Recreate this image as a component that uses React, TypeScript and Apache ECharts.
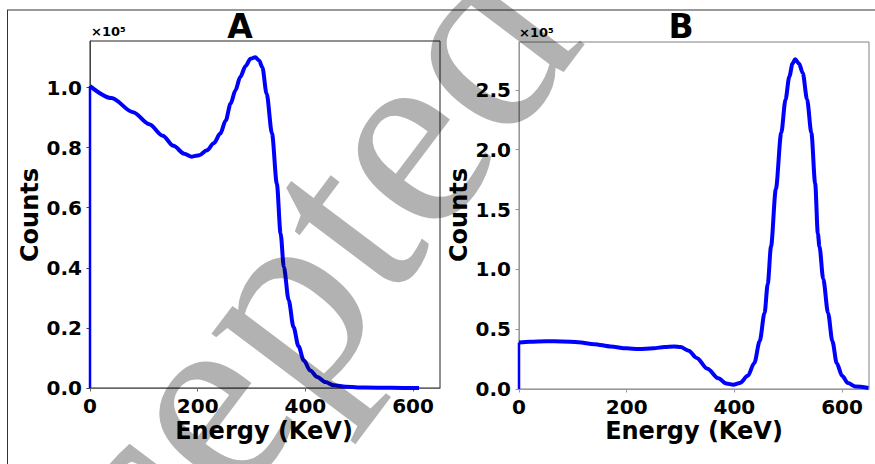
import React, { useEffect, useRef } from "react";
import * as echarts from "echarts";

// Panel A (x in keV, y in units of 1e5 counts)
const energyA = [0, 40, 80, 110, 135, 155, 175, 189, 203, 217, 230, 242, 252, 261, 270, 279, 289, 298, 307, 314, 320, 328, 338, 347, 354, 360, 369, 378, 387, 397, 409, 422, 437, 453, 475, 510, 560, 611];
const countsA = [1.005, 0.965, 0.918, 0.878, 0.84, 0.806, 0.78, 0.77, 0.775, 0.791, 0.815, 0.847, 0.89, 0.946, 0.99, 1.035, 1.072, 1.096, 1.101, 1.09, 1.068, 0.98, 0.847, 0.68, 0.514, 0.403, 0.292, 0.203, 0.14, 0.092, 0.058, 0.037, 0.02, 0.009, 0.004, 0.0015, 0.0005, 0];

// Panel B
const energyB = [0, 20, 50, 80, 110, 140, 170, 200, 222, 250, 270, 288, 300, 315, 330, 350, 370, 385, 398, 410, 425, 437, 447, 456, 462, 468, 477, 487, 495, 502, 508, 513, 520, 527, 535, 543, 550, 555, 558, 565, 574, 582, 590, 600, 611, 625, 649];
const countsB = [0.389, 0.395, 0.40, 0.398, 0.39, 0.375, 0.355, 0.34, 0.334, 0.34, 0.352, 0.356, 0.35, 0.32, 0.26, 0.17, 0.09, 0.045, 0.036, 0.05, 0.11, 0.217, 0.40, 0.634, 0.88, 1.19, 1.67, 2.14, 2.42, 2.61, 2.72, 2.755, 2.72, 2.64, 2.42, 2.14, 1.72, 1.30, 1.19, 0.92, 0.634, 0.40, 0.217, 0.11, 0.05, 0.02, 0.008];

const xTicks = [0, 200, 400, 600];
const yTicksA = [0, 0.2, 0.4, 0.6, 0.8, 1.0];
const yTicksB = [0, 0.5, 1.0, 1.5, 2.0, 2.5];

const FONT = "DejaVu Sans";

export default function App() {
  const ref = useRef<HTMLDivElement>(null);
  useEffect(() => {
    if (!ref.current) return;
    const chart = echarts.init(ref.current, null, { renderer: "svg" });
    const pairs = (xs: number[], ys: number[]) => xs.map((x, i) => [x, ys[i]]);
    const tickLabel = {
      fontFamily: FONT,
      fontWeight: "bold" as const,
      fontSize: 20,
      color: "#000",
      margin: 8,
    };
    const mkX = (grid: number, color: string) => ({
      type: "value",
      gridIndex: grid,
      min: 0,
      max: 650,
      interval: 200,
      splitLine: { show: false },
      axisLine: { lineStyle: { color, width: 1 } },
      axisTick: { length: 3.5, lineStyle: { color }, customValues: xTicks },
      axisLabel: { ...tickLabel, customValues: xTicks, formatter: (v: number) => String(v) },
    });
    const mkY = (grid: number, max: number, ticks: number[], color: string) => ({
      type: "value",
      gridIndex: grid,
      min: 0,
      max,
      splitLine: { show: false },
      axisLine: { show: true, lineStyle: { color, width: 1 } },
      axisTick: { show: true, length: 3.5, lineStyle: { color }, customValues: ticks },
      axisLabel: { ...tickLabel, customValues: ticks, formatter: (v: number) => v.toFixed(1) },
    });
    const lineStyle = { color: "#0000ff", width: 4 };
    const txt = (text: string, x: number, y: number, size: number, extra: any = {}) => ({
      type: "text",
      x,
      y,
      z: 10,
      ...extra,
      style: {
        text,
        font: `bold ${size}px "${FONT}"`,
        fill: "#000",
        textAlign: "center",
        textVerticalAlign: "middle",
      },
    });
    chart.setOption({
      animation: false,
      backgroundColor: "#fff",
      grid: [
        { left: 90, top: 41, width: 350, height: 347, show: true, borderColor: "#222", borderWidth: 1, backgroundColor: "transparent" },
        { left: 519, top: 42, width: 350, height: 347, show: true, borderColor: "#808080", borderWidth: 1, backgroundColor: "transparent" },
      ],
      xAxis: [mkX(0, "#666"), mkX(1, "#999")],
      yAxis: [mkY(0, 1.155, yTicksA, "#444"), mkY(1, 2.9, yTicksB, "#999")],
      series: [
        { type: "line", xAxisIndex: 0, yAxisIndex: 0, showSymbol: false, data: [[0, 0], [energyA[0], countsA[0]]], lineStyle: { color: "#0000ff", width: 2.5 } },
        { type: "line", xAxisIndex: 0, yAxisIndex: 0, showSymbol: false, smooth: 0.3, smoothMonotone: "x", data: pairs(energyA, countsA), lineStyle },
        { type: "line", xAxisIndex: 1, yAxisIndex: 1, showSymbol: false, data: [[0, 0], [energyB[0], countsB[0]]], lineStyle: { color: "#0000ff", width: 2.5 } },
        { type: "line", xAxisIndex: 1, yAxisIndex: 1, showSymbol: false, smooth: 0.3, smoothMonotone: "x", data: pairs(energyB, countsB), lineStyle },
      ],
      graphic: [
        { type: "line", shape: { x1: 7, y1: 10, x2: 875, y2: 10 }, style: { stroke: "#999", lineWidth: 2 } },
        { type: "line", shape: { x1: 7.5, y1: 10, x2: 7.5, y2: 464 }, style: { stroke: "#333", lineWidth: 1 } },
        txt("A", 240, 26, 33),
        txt("B", 681, 26, 33),
        {
          type: "text", x: 91, y: 31, z: 10,
          style: { text: "×10⁵", font: `bold 13px "${FONT}"`, fill: "#000", textAlign: "left", textVerticalAlign: "middle" },
        },
        {
          type: "text", x: 519, y: 32, z: 10,
          style: { text: "×10⁵", font: `bold 13px "${FONT}"`, fill: "#000", textAlign: "left", textVerticalAlign: "middle" },
        },
        txt("Counts", 30, 215, 24, { rotation: Math.PI / 2 }),
        txt("Counts", 459, 215, 24, { rotation: Math.PI / 2 }),
        txt("Energy (KeV)", 264, 431, 24),
        txt("Energy (KeV)", 694, 431, 24),
        {
          type: "text",
          x: -100,
          y: 801,
          rotation: 0.925,
          z: 100,
          silent: true,
          style: {
            text: "Accepted",
            font: `270px "Liberation Serif"`,
            fill: "rgba(0,0,0,0.3)",
            textAlign: "left",
            textVerticalAlign: "middle",
          },
        },
      ],
    });
    return () => chart.dispose();
  }, []);
  return (
    <div
      ref={ref}
      style={{ position: "fixed", left: 0, top: 0, width: 875, height: 464 }}
    />
  );
}
